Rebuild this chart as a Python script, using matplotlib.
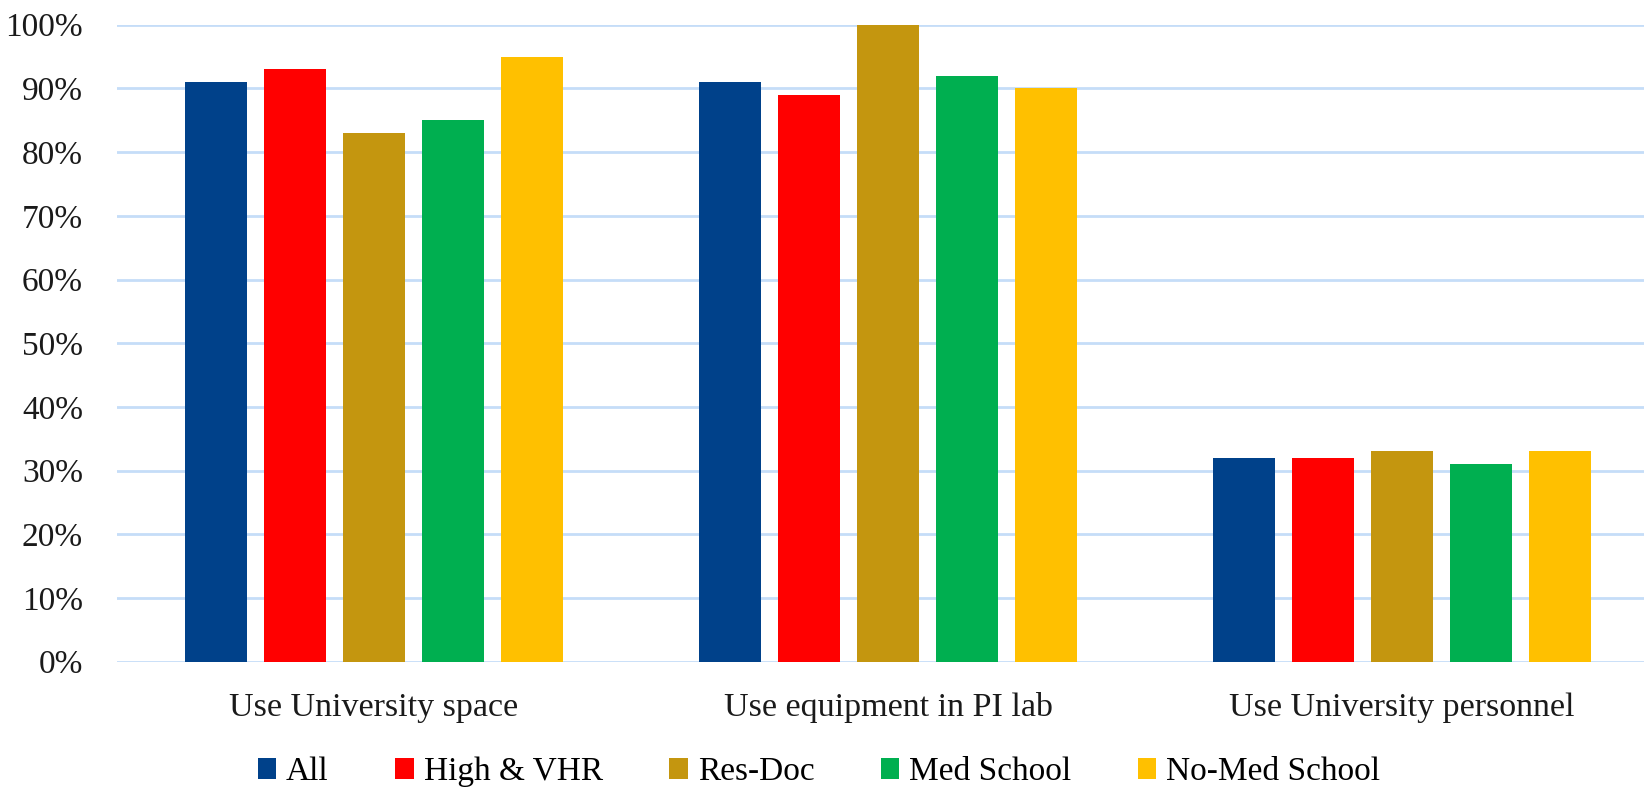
import matplotlib
matplotlib.use("Agg")
import matplotlib.pyplot as plt
import numpy as np

categories = ["Use University space", "Use equipment in PI lab", "Use University personnel"]
series_names = ["All", "High & VHR", "Res-Doc", "Med School", "No-Med School"]
values = {
    "All": [91, 91, 32],
    "High & VHR": [93, 89, 32],
    "Res-Doc": [83, 100, 33],
    "Med School": [85, 92, 31],
    "No-Med School": [95, 90, 33],
}
colors = ["#00418A", "#FF0000", "#C4960F", "#00AF50", "#FFC000"]
yticks = [0, 10, 20, 30, 40, 50, 60, 70, 80, 90, 100]
ytick_labels = [f"{t}%" for t in yticks]

plt.rcParams['font.family'] = ['Liberation Serif', 'DejaVu Serif']

fig = plt.figure(figsize=(16.44, 7.89), dpi=100)
ax = fig.add_axes([117 / 1644, 1 - 661.7 / 789, (1659 - 117) / 1644, (661.7 - 24.7) / 789])

x = np.arange(len(categories))
step = 0.1537
width = 0.12
for i, name in enumerate(series_names):
    ax.bar(x + (i - 2) * step, values[name], width=width, color=colors[i],
           label=name, zorder=3, linewidth=0)

ax.set_xlim(-0.5, 2.5)
ax.set_ylim(0, 100)
ax.set_yticks(yticks)
ax.set_yticklabels(ytick_labels)
ax.set_xticks(x)
ax.set_xticklabels(categories)
ax.tick_params(axis='both', length=0, labelsize=24, colors='#1a1a1a')
ax.tick_params(axis='x', labelsize=24.5)
ax.tick_params(axis='y', pad=24.5)
ax.tick_params(axis='x', pad=22)
ax.grid(axis='y', color='#C5DDF8', linewidth=2, zorder=0)
ax.set_axisbelow(True)
for s in ax.spines.values():
    s.set_visible(False)

leg = fig.legend(loc='center', bbox_to_anchor=(819 / 1644, 1 - 772 / 789), ncol=5,
                 frameon=False, fontsize=24, handlelength=0.55, handleheight=0.55,
                 handletextpad=0.3, columnspacing=2.0, borderpad=0, borderaxespad=0)

fig.savefig("out.png", dpi=100)
